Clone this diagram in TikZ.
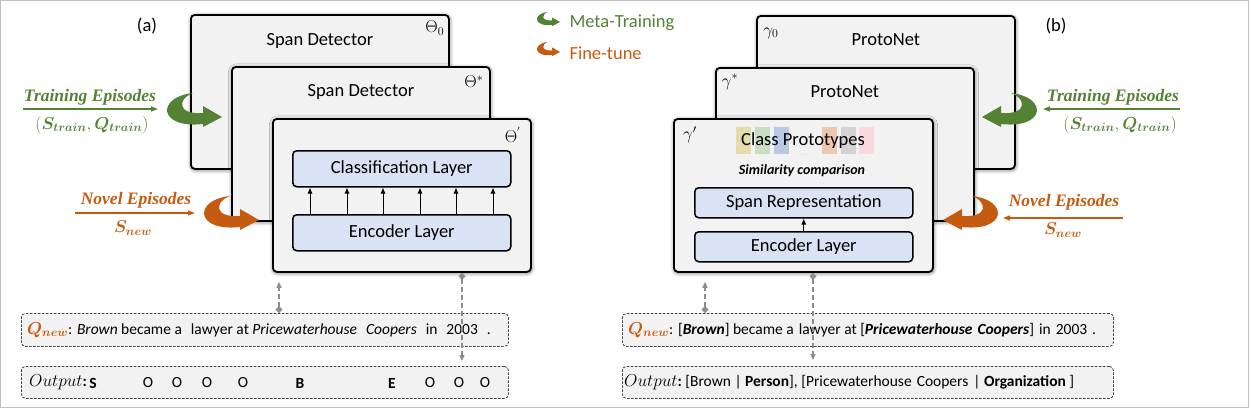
\documentclass[tikz,border=0pt]{standalone}
\usepackage{fontspec}
\usepackage{bm}
\newfontfamily\calfont{Carlito}
\newfontfamily\epifont{Liberation Serif}
\usetikzlibrary{positioning}
\usetikzlibrary{arrows.meta}
\usetikzlibrary{shadows.blur}
\definecolor{trgreen}{HTML}{548235}
\definecolor{ftorange}{HTML}{C55A11}
\definecolor{panelgray}{HTML}{F2F2F2}
\definecolor{layerblue}{HTML}{DAE3F3}
\definecolor{linkgray}{HTML}{8C8C8C}
\definecolor{frameg}{HTML}{BFBFBF}
\definecolor{protoA}{HTML}{E6DBAA}
\definecolor{protoB}{HTML}{CBDCC0}
\definecolor{protoC}{HTML}{B9C9E2}
\definecolor{protoD}{HTML}{EDC8AF}
\definecolor{protoE}{HTML}{D3D3D3}
\definecolor{protoF}{HTML}{F7D9DF}
\newcommand{\gap}{\hspace{9pt}}
\newcommand{\sgap}{\hspace{5pt}}
\newcommand{\qnew}{{\color{ftorange}\fontsize{17}{17}\selectfont$\bm{Q_{new}}$}}
\newcommand{\outlabel}{{\fontsize{18}{18}\selectfont$Output$}\textbf{:}}
\tikzset{
    panel/.style = {draw=black, line width=1.8pt, fill=panelgray, rounded corners=4pt, anchor=north west, inner sep=0pt,
        blur shadow={shadow blur steps=8, shadow blur radius=4pt, shadow xshift=0.5pt, shadow yshift=-1pt, shadow opacity=60}},
    layer/.style = {draw=black, line width=1.5pt, fill=layerblue, rounded corners=4pt, anchor=north west, inner sep=0pt,
        minimum width=218pt, font=\calfont\fontsize{18.5}{20}\selectfont},
    title/.style = {font=\calfont\fontsize{18.5}{20}\selectfont},
    param/.style = {font=\fontsize{17}{18}\selectfont},
    sentbox/.style = {draw=black!75, dash pattern=on 2.5pt off 1.5pt, line width=0.8pt, rounded corners=4pt, fill=panelgray,
        anchor=north west, inner sep=0pt},
    sent/.style = {font=\calfont\fontsize{15.5}{17}\selectfont, inner sep=0pt},
    episode/.style = {font=\epifont\bfseries\itshape\fontsize{17.5}{19}\selectfont},
    episub/.style = {font=\fontsize{17}{19}\selectfont},
    epiline/.style = {line width=1.5pt, -{Triangle[length=7pt,width=5pt]}},
    link/.style = {linkgray, line width=1.2pt, dash pattern=on 5pt off 3pt,
        {Diamond[length=7pt,width=7pt]}-{Triangle[length=6pt,width=5pt]}},
    feed/.style = {line width=1pt, -{Latex[length=6pt,width=5pt]}},
    curlarrow/.pic = {
        \fill (-29,-24) .. controls (-66,-20) and (-64,12) .. (-19,7) -- (-19,10) -- (0,0) -- (-19,-11) -- (-19,-4)
            .. controls (-45,-2) and (-45,-18) .. (-29,-24) -- cycle;
    }
}
\begin{document}
\begin{tikzpicture}[x=1pt,y=-1pt]
    \useasboundingbox (0,0) rectangle (1251,408);
    \draw[frameg, line width=1pt] (0.5,0.5) rectangle (1248.5,407.5);

    % (a) span detector
    \node at (147,26) [title] (capA) {(a)};
    \node[panel, minimum width=258pt, minimum height=154pt] (sd0) at (190,14) {};
    \node[title] (sd0title) at ([yshift=-27pt]sd0.north) {Span Detector};
    \node[param] (sd0par) at ([xshift=-15pt,yshift=-14pt]sd0.north east) {$\Theta_0$};
    \node[panel, minimum width=258pt, minimum height=154pt] (sd1) at (231,66) {};
    \node[title] (sd1title) at ([yshift=-26pt]sd1.north) {Span Detector};
    \node[param] (sd1par) at ([xshift=-17pt,yshift=-16pt]sd1.north east) {$\Theta^{*}$};
    \node[panel, minimum width=258pt, minimum height=153pt] (sd2) at (272,118) {};
    \node[param] (sd2par) at ([xshift=-19pt,yshift=-17pt]sd2.north east) {$\Theta^{'}$};
    \node[layer, minimum height=36pt] (cls) at (292,150) {Classification Layer};
    \node[layer, minimum height=36pt] (enc) at (292,214) {Encoder Layer};
    \foreach \dx in {18,55,91,128,164,201}
        \draw[feed] ([xshift=\dx pt]enc.north west) -- ([xshift=\dx pt]cls.south west);

    % (b) protonet
    \node at (1056,26) [title] (capB) {(b)};
    \node[panel, minimum width=258pt, minimum height=153pt] (pn0) at (756,15) {};
    \node[title] (pn0title) at ([yshift=-25pt]pn0.north) {ProtoNet};
    \node[param] (pn0par) at ([xshift=15pt,yshift=-18pt]pn0.north west) {$\gamma_0$};
    \node[panel, minimum width=258pt, minimum height=153pt] (pn1) at (715,67) {};
    \node[title] (pn1title) at ([yshift=-25pt]pn1.north) {ProtoNet};
    \node[param] (pn1par) at ([xshift=15pt,yshift=-15pt]pn1.north west) {$\gamma^{*}$};
    \node[panel, minimum width=259pt, minimum height=153pt] (pn2) at (673,118) {};
    \node[param] (pn2par) at ([xshift=17pt,yshift=-17pt]pn2.north west) {$\gamma'$};
    \foreach \x/\c in {736/protoA,755/protoB,774/protoC,822/protoD,841/protoE,859/protoF}
        \fill[\c] (\x,127) rectangle ++(15,27);
    \node[title] (proto) at (803,141) {Class Prototypes};
    \node[font=\fontsize{6}{6}\selectfont, text=black!45, inner sep=0pt] (dots) at (804,155) {...};
    \node[font=\calfont\bfseries\itshape\fontsize{14}{16}\selectfont] (simi) at (802,171) {Similarity comparison};
    \node[layer, minimum height=30pt] (spanrep) at (694,187) {Span Representation};
    \node[layer, minimum height=30pt] (enc2) at (694,231) {Encoder Layer};
    \draw[feed] (enc2.north) -- (spanrep.south);

    % legend
    \pic[color=trgreen, scale=0.42] at (560,22) {curlarrow};
    \node[title, text=trgreen, anchor=west] (legmeta) at (566,23) {Meta-Training};
    \pic[color=ftorange, scale=0.42] at (560,52) {curlarrow};
    \node[title, text=ftorange, anchor=west] (legfine) at (566,53) {Fine-tune};

    % episodes, left
    \node[episode, text=trgreen] (trA) at (90,97) {Training Episodes};
    \node[episub, text=trgreen] (trAsub) at (92,125) {$(\bm{S_{train}},\bm{Q_{train}})$};
    \coordinate (trA1) at (23,109);
    \coordinate (trA2) at (158,109);
    \draw[epiline, trgreen] (trA1) -- (trA2);
    \pic[color=trgreen] at (222,117) {curlarrow};
    \node[episode, text=ftorange] (nvA) at (136,200) {Novel Episodes};
    \node[episub, text=ftorange] (nvAsub) at (133,228) {$\bm{S_{new}}$};
    \coordinate (nvA1) at (75,213);
    \coordinate (nvA2) at (195,213);
    \draw[epiline, ftorange] (nvA1) -- (nvA2);
    \pic[color=ftorange] at (259,220) {curlarrow};

    % episodes, right
    \node[episode, text=trgreen] (trB) at (1113,97) {Training Episodes};
    \node[episub, text=trgreen] (trBsub) at (1120,125) {$(\bm{S_{train}},\bm{Q_{train}})$};
    \coordinate (trB1) at (1180,109);
    \coordinate (trB2) at (1043,109);
    \draw[epiline, trgreen] (trB1) -- (trB2);
    \pic[color=trgreen, xscale=-1] at (982,117) {curlarrow};
    \node[episode, text=ftorange] (nvB) at (1064,202) {Novel Episodes};
    \node[episub, text=ftorange] (nvBsub) at (1063,230) {$\bm{S_{new}}$};
    \coordinate (nvB1) at (1123,218);
    \coordinate (nvB2) at (1003,218);
    \draw[epiline, ftorange] (nvB1) -- (nvB2);
    \pic[color=ftorange, xscale=-1] at (943,220) {curlarrow};

    % query and output, left
    \node[sentbox, minimum width=487pt, minimum height=33pt] (qa) at (21,313) {};
    \node[sent, anchor=west] (qatext) at ([xshift=6pt]qa.west)
        {\qnew: \textit{Brown} became a\gap lawyer at \textit{Pricewaterhouse\gap Coopers}\gap in\gap 2003\gap .};
    \node[sentbox, minimum width=487pt, minimum height=32pt] (oa) at (21,366) {};
    \node[sent, anchor=west] (oalabel) at ([xshift=8pt]oa.west) {\outlabel};
    \foreach \x/\t [count=\i] in {93/\textbf{S},148/O,177/O,207/O,243/O,300/\textbf{B},392/\textbf{E},430/O,459/O,485/O}
        \node[sent] (tokA\i) at (\x,383) {\t};

    % query and output, right
    \node[sentbox, minimum width=491pt, minimum height=33pt] (qb) at (622,313) {};
    \node[sent, anchor=west] (qbtext) at ([xshift=6pt]qb.west)
        {\qnew: [\textbf{\textit{Brown}}] became a\sgap lawyer at [\textbf{\textit{Pricewaterhouse\sgap Coopers}}]\sgap in\sgap 2003\sgap .};
    \node[sentbox, minimum width=491pt, minimum height=32pt] (ob) at (622,366) {};
    \node[sent, anchor=west] (obtext) at ([xshift=2pt]ob.west)
        {\outlabel\ [Brown | \textbf{Person}], [Pricewaterhouse\sgap Coopers\sgap | \textbf{Organization} ]};

    % links
    \draw[link] ([xshift=258pt]qa.north west) -- ([xshift=7pt,yshift=-9pt]sd2.south west);
    \draw[link] ([xshift=190pt]sd2.south west) -- ([xshift=441pt,yshift=5pt]oa.north west);
    \draw[link] ([xshift=83pt]qb.north west) -- ([xshift=32pt,yshift=-9pt]pn2.south west);
    \draw[link] ([xshift=140pt]pn2.south west) -- ([xshift=191pt,yshift=6pt]ob.north west);
\end{tikzpicture}
\end{document}
